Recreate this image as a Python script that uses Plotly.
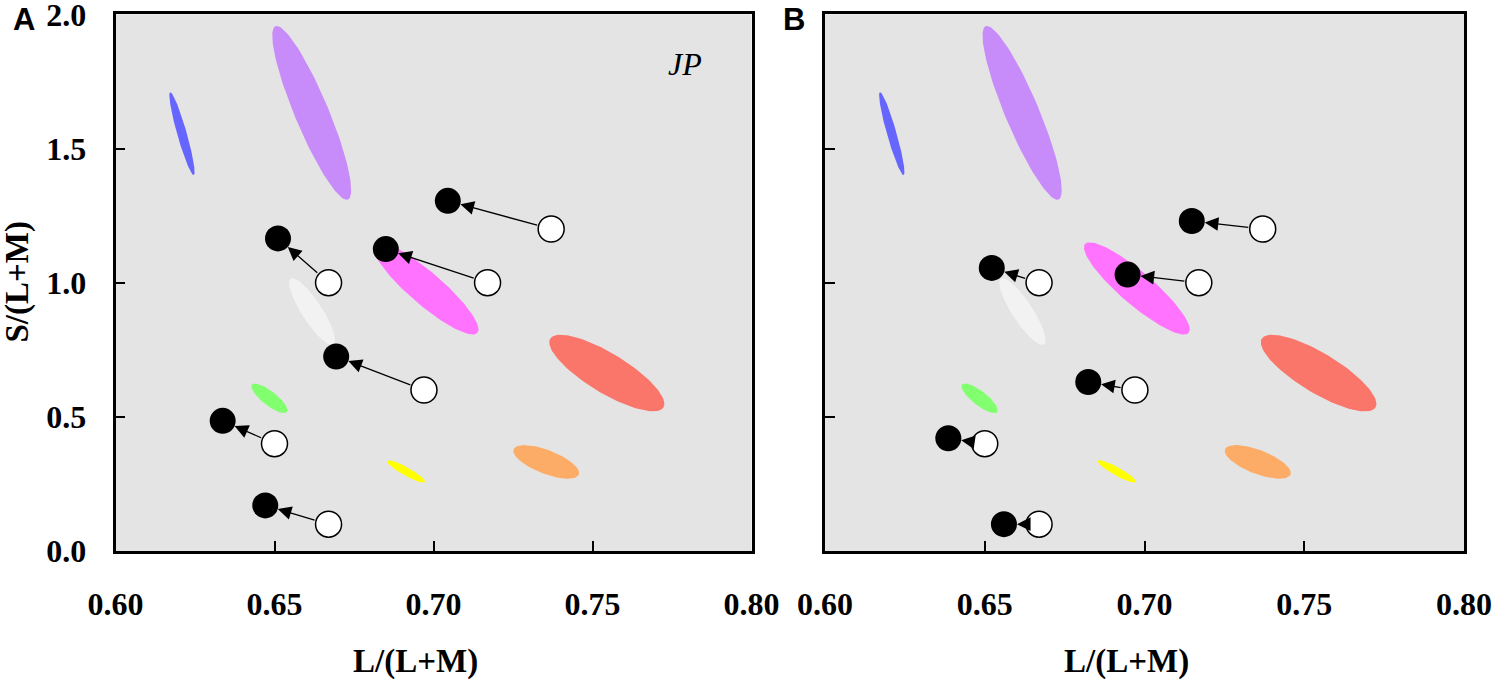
import numpy as np
import plotly.graph_objects as go

# ellipse data: ends of the long axis (L/(L+M), S/(L+M)) and width/length ratio
ell_x1 = [0.6172, 0.6503, 0.6551, 0.6814, 0.7367, 0.6429, 0.6854, 0.7252]
ell_y1 = [1.710, 1.956, 1.015, 1.144, 0.791, 0.620, 0.336, 0.379]
ell_x2 = [0.6246, 0.6731, 0.6685, 0.7138, 0.7723, 0.6539, 0.6973, 0.7457]
ell_y2 = [1.401, 1.310, 0.770, 0.813, 0.535, 0.518, 0.257, 0.285]
ell_ratio = [0.11, 0.18, 0.26, 0.24, 0.30, 0.32, 0.19, 0.34]
ell_colors = ['#6666ff', '#c88cfa', '#f2f2f2', '#ff73ff',
              '#fa766a', '#82ff6e', '#ffff00', '#fcac66']

# open circles (same in both panels)
open_x = [0.737, 0.667, 0.717, 0.697, 0.650, 0.667]
open_y = [1.2, 1.0, 1.0, 0.6, 0.4, 0.1]

# filled circles
a_fill_x = [0.7045, 0.6511, 0.6850, 0.6694, 0.6337, 0.6471]
a_fill_y = [1.305, 1.165, 1.125, 0.725, 0.485, 0.170]
b_fill_x = [0.7148, 0.6522, 0.6947, 0.6824, 0.6386, 0.6560]
b_fill_y = [1.230, 1.055, 1.030, 0.630, 0.420, 0.100]

x_ticks = [0.60, 0.65, 0.70, 0.75, 0.80]
y_ticks = [0.0, 0.5, 1.0, 1.5, 2.0]

W, H = 1500, 686
dom_a = [115.5 / W, 751.5 / W]
dom_b = [825 / W, 1464 / W]
dom_y = [1 - 551 / H, 1 - 14.3 / H]

serif = 'Liberation Serif'


def ellipse(x1, y1, x2, y2, ratio, dom_x):
    # work in pixel space so the ellipse keeps its shape
    sx = (dom_x[1] - dom_x[0]) * W / 0.2
    sy = (dom_y[1] - dom_y[0]) * H / 2.0
    cx, cy = (x1 + x2) / 2, (y1 + y2) / 2
    ux, uy = (x2 - x1) / 2 * sx, (y2 - y1) / 2 * sy
    vx, vy = -uy * ratio, ux * ratio
    t = np.linspace(0, 2 * np.pi, 120)
    px = cx + (np.cos(t) * ux + np.sin(t) * vx) / sx
    py = cy + (np.cos(t) * uy + np.sin(t) * vy) / sy
    return px, py


fig = go.Figure()

panels = [('x', 'y', dom_a, a_fill_x, a_fill_y),
          ('x2', 'y2', dom_b, b_fill_x, b_fill_y)]

annotations = []
for xr, yr, dom, fx, fy in panels:
    for i in range(len(ell_x1)):
        px, py = ellipse(ell_x1[i], ell_y1[i], ell_x2[i], ell_y2[i], ell_ratio[i], dom)
        fig.add_trace(go.Scatter(x=px, y=py, mode='lines', fill='toself',
                                 fillcolor=ell_colors[i], line=dict(width=0),
                                 hoverinfo='skip', showlegend=False,
                                 xaxis=xr, yaxis=yr))
    fig.add_trace(go.Scatter(x=open_x, y=open_y, mode='markers', showlegend=False,
                             marker=dict(size=26, color='white',
                                         line=dict(color='black', width=1.5)),
                             xaxis=xr, yaxis=yr))
    fig.add_trace(go.Scatter(x=fx, y=fy, mode='markers', showlegend=False,
                             marker=dict(size=26, color='black'),
                             xaxis=xr, yaxis=yr))
    for i in range(len(open_x)):
        annotations.append(dict(x=fx[i], y=fy[i], ax=open_x[i], ay=open_y[i],
                                xref=xr, yref=yr, axref=xr, ayref=yr,
                                text='', showarrow=True, arrowhead=2,
                                arrowsize=2.1, arrowwidth=1.3, arrowcolor='black',
                                standoff=13, startstandoff=13))

tick_font = dict(family=serif, size=32, color='black', weight='bold')
axis_common = dict(range=[0.6, 0.8], tickvals=x_ticks,
                   ticktext=['%.2f' % v for v in x_ticks],
                   ticks='inside', ticklen=10, tickwidth=1.5, tickcolor='black',
                   showline=True, linewidth=2.5, linecolor='black', mirror=True,
                   showgrid=False, zeroline=False, tickfont=tick_font,
                   ticklabelstandoff=23, automargin=False,
                   ticklabeloverflow='allow')
yaxis_common = dict(range=[0, 2.0001], tickvals=y_ticks,
                    ticktext=['%.1f' % v for v in y_ticks],
                    ticks='inside', ticklen=10, tickwidth=1.5, tickcolor='black',
                    showline=True, linewidth=2.5, linecolor='black', mirror=True,
                    showgrid=False, zeroline=False, tickfont=tick_font,
                    ticklabelstandoff=20, automargin=False,
                    ticklabeloverflow='allow')

fig.update_layout(
    width=W, height=H,
    margin=dict(l=0, r=0, t=0, b=0),
    paper_bgcolor='white', plot_bgcolor='#e4e4e4',
    xaxis=dict(domain=dom_a, anchor='y', **axis_common),
    yaxis=dict(domain=dom_y, anchor='x', **yaxis_common),
    xaxis2=dict(domain=dom_b, anchor='y2', **axis_common),
    yaxis2=dict(domain=dom_y, anchor='x2', showticklabels=False, **yaxis_common),
)

title_font = dict(family=serif, size=33, color='black', weight='bold')
annotations += [
    dict(text='L/(L+M)', x=415 / W, y=1 - 661 / H, xref='paper', yref='paper',
         showarrow=False, font=title_font, xanchor='center', yanchor='middle'),
    dict(text='L/(L+M)', x=1126 / W, y=1 - 661 / H, xref='paper', yref='paper',
         showarrow=False, font=title_font, xanchor='center', yanchor='middle'),
    dict(text='S/(L+M)', x=17 / W, y=1 - 282.5 / H, xref='paper', yref='paper',
         showarrow=False, font=title_font, textangle=-90,
         xanchor='center', yanchor='middle'),
    dict(text='A', x=24.5 / W, y=1 - 19.5 / H, xref='paper', yref='paper',
         showarrow=False, xanchor='center', yanchor='middle',
         font=dict(family='Liberation Sans', size=31, color='black', weight='bold')),
    dict(text='B', x=794 / W, y=1 - 20 / H, xref='paper', yref='paper',
         showarrow=False, xanchor='center', yanchor='middle',
         font=dict(family='Liberation Sans', size=31, color='black', weight='bold')),
    dict(text='<i>JP</i>', x=0.779, y=1.814, xref='x', yref='y', showarrow=False,
         font=dict(family=serif, size=32, color='black')),
]
fig.update_layout(annotations=annotations)

# drop the browser's default page margin so the figure sits at the top-left corner
fig.write_html('out.html', config={'displayModeBar': False},
               post_script="document.body.style.margin='0px';")
